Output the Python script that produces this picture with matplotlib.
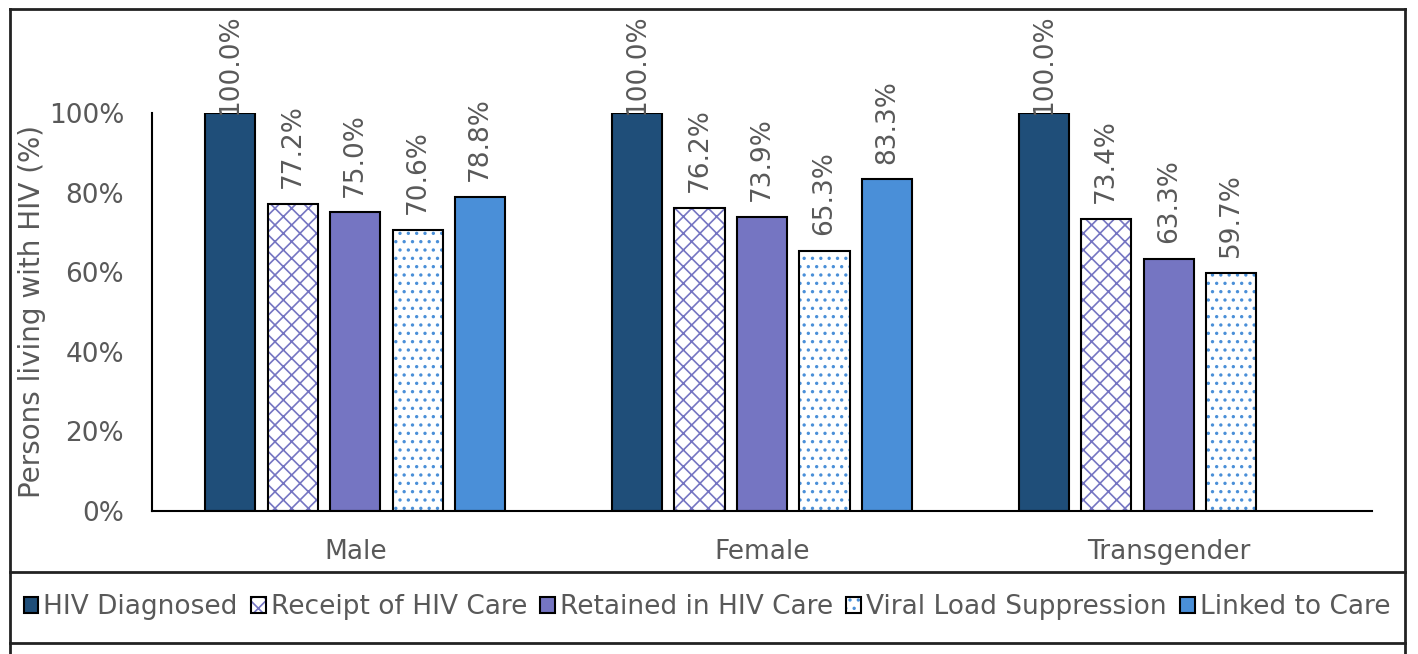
import matplotlib
matplotlib.use('Agg')
import matplotlib.pyplot as plt
from matplotlib.lines import Line2D
from matplotlib.legend_handler import HandlerTuple
import numpy as np

# ── data ────────────────────────────────────────────────────────────
groups = ["Male", "Female", "Transgender"]
series = ["HIV Diagnosed", "Receipt of HIV Care", "Retained in HIV Care",
          "Viral Load Suppression", "Linked to Care"]
diagnosed = [100.0, 100.0, 100.0]
receipt   = [77.2, 76.2, 73.4]
retained  = [75.0, 73.9, 63.3]
viral     = [70.6, 65.3, 59.7]
linked    = [78.8, 83.3, None]   # no value for Transgender
yticks = [0, 20, 40, 60, 80, 100]

values = [diagnosed, receipt, retained, viral, linked]

# ── styling ─────────────────────────────────────────────────────────
face   = ["#1F4E79", "white", "#7575C2", "white", "#4A8FD8"]
hcolor = [None, "#7575C2", None, "#4A8FD8", None]
hatch  = [None, "xx", None, "..", None]
grey = "#595959"

plt.rcParams['font.family'] = ['DejaVu Sans']
plt.rcParams['hatch.linewidth'] = 1.2

W, H = 1418, 654
fig = plt.figure(figsize=(W / 100, H / 100), dpi=100)
ax = fig.add_axes([152 / W, (H - 511) / H, 1220 / W, 398 / H])

x = np.arange(len(groups))
pitch = 0.1537
width = 0.123
handles = []
for i, (vals, name) in enumerate(zip(values, series)):
    xs = [xi + (i - 2) * pitch for xi, v in zip(x, vals) if v is not None]
    vs = [v for v in vals if v is not None]
    if hatch[i]:
        hb = ax.bar(xs, vs, width, color="white", edgecolor=hcolor[i],
                    hatch=hatch[i], linewidth=0)
        ob = ax.bar(xs, vs, width, color="none", edgecolor="black", linewidth=1.5)
        handles.append((hb[0], ob[0]))
    else:
        ob = ax.bar(xs, vs, width, color=face[i], edgecolor="black", linewidth=1.5)
        handles.append(ob[0])
    for xx, v in zip(xs, vs):
        ax.text(xx, min(v + 4.0, 99.4), f"{v:.1f}%", rotation=90,
                ha="center", va="bottom", fontsize=19, color=grey, clip_on=False)

ax.set_xlim(-0.5, 2.5)
ax.set_ylim(0, 100)
ax.set_yticks(yticks)
ax.set_yticklabels([f"{t}%" for t in yticks])
ax.set_xticks(x)
ax.set_xticklabels(groups)
ax.tick_params(length=0, labelsize=19, labelcolor=grey)
ax.tick_params(axis="x", pad=20)
ax.tick_params(axis="y", pad=20)
ax.set_ylabel("Persons living with HIV (%)", fontsize=20, color=grey, labelpad=2)
for s in ["top", "right"]:
    ax.spines[s].set_visible(False)
for s in ["left", "bottom"]:
    ax.spines[s].set_linewidth(1.5)

fig.legend(handles, series, loc="center", bbox_to_anchor=(707 / W, 1 - 607 / H),
           ncol=5, frameon=False, fontsize=19, labelcolor=grey,
           handlelength=0.55, handleheight=0.55, handletextpad=0.2,
           columnspacing=0.5, borderaxespad=0,
           handler_map={tuple: HandlerTuple(ndivide=1)})

# frame lines round chart and legend
def hline(y, x0=10, x1=1405):
    fig.add_artist(Line2D([x0 / W, x1 / W], [1 - y / H, 1 - y / H],
                          color="#222222", lw=2))

def vline(xp, y0=9, y1=654):
    fig.add_artist(Line2D([xp / W, xp / W], [1 - y0 / H, 1 - y1 / H],
                          color="#222222", lw=2))

hline(9)
hline(572)
hline(643)
vline(10)
vline(1405)

fig.savefig("out.png", dpi=100)
